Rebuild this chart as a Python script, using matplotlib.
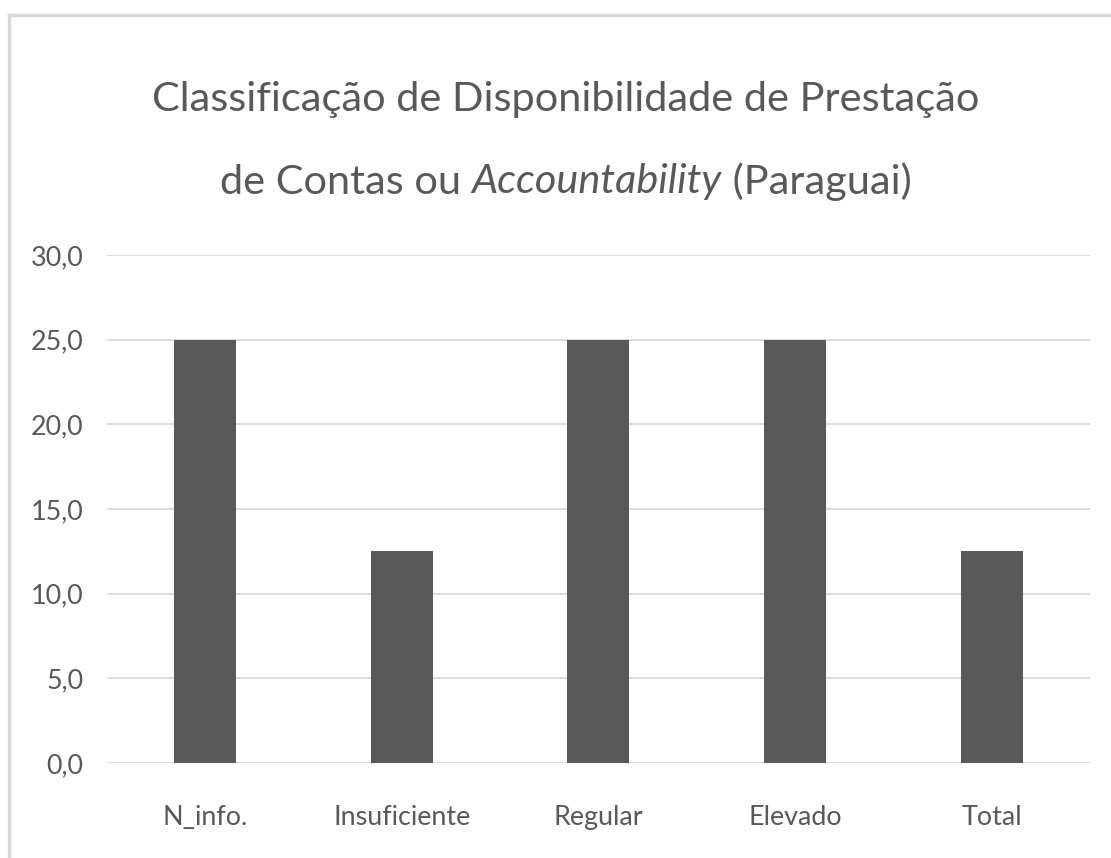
import matplotlib
matplotlib.use("Agg")
import matplotlib.pyplot as plt

categorias = ["N_info.", "Insuficiente", "Regular", "Elevado", "Total"]
valores = [25.0, 12.5, 25.0, 25.0, 12.5]
yticks = [0, 5, 10, 15, 20, 25, 30]

fonte = ["Lato", "DejaVu Sans"]
plt.rcParams['font.family'] = fonte
cinza = "#595959"

fig = plt.figure(figsize=(11.11, 8.58), dpi=100)
ax = fig.add_axes([0.0963, 0.1107, 0.8847, 0.5921])
r = fig.canvas.get_renderer()

x = range(len(categorias))
ax.bar(x, valores, width=0.315, color=cinza, zorder=3)
ax.set_xlim(-0.5, len(categorias) - 0.5)
ax.set_ylim(0, 30)
ax.set_yticks(yticks)
ax.set_yticklabels([("%.1f" % v).replace(".", ",") for v in yticks])
ax.set_xticks(list(x))
ax.set_xticklabels(categorias)

# tamanho dos rótulos: "Insuficiente" com ~138 px de largura
t = fig.text(0, 0, "Insuficiente", fontsize=20)
tam_rot = 20 * 138 / t.get_window_extent(r).width
t.remove()

ax.tick_params(axis='both', length=0, labelsize=tam_rot, colors=cinza)
ax.tick_params(axis='y', pad=17)
ax.tick_params(axis='x', pad=30)
ax.grid(axis='y', color="#d9d9d9", linewidth=1.3, zorder=0)
for s in ax.spines.values():
    s.set_visible(False)

# borda do gráfico (topo e esquerda)
fig.add_artist(plt.Line2D([0.008, 1.0], [1 - 15 / 858, 1 - 15 / 858], color="#d9d9d9", lw=2.5))
fig.add_artist(plt.Line2D([0.008, 0.008], [0, 1 - 15 / 858], color="#d9d9d9", lw=2.5))

linha1 = "Classificação de Disponibilidade de Prestação"
t = fig.text(0, 0, linha1, fontsize=30)
tam = 30 * 825 / t.get_window_extent(r).width
t.remove()

fig.text(0.509, 1 - 100 / 858, linha1,
         ha='center', va='center', fontsize=tam, color=cinza)

# segunda linha com parte em itálico
partes = [("de Contas ou ", 'normal'), ("Accountability", 'italic'), (" (Paraguai)", 'normal')]
txts = []
for s, st in partes:
    t = fig.text(0, 1 - 182 / 858, s, ha='left', va='center', fontsize=tam,
                 color=cinza, style=st)
    txts.append(t)
larg = [t.get_window_extent(r).width for t in txts]
total = sum(larg)
x0 = 0.509 * fig.bbox.width - total / 2
for t, w in zip(txts, larg):
    t.set_x(x0 / fig.bbox.width)
    x0 += w

fig.savefig("out.png", dpi=100)
